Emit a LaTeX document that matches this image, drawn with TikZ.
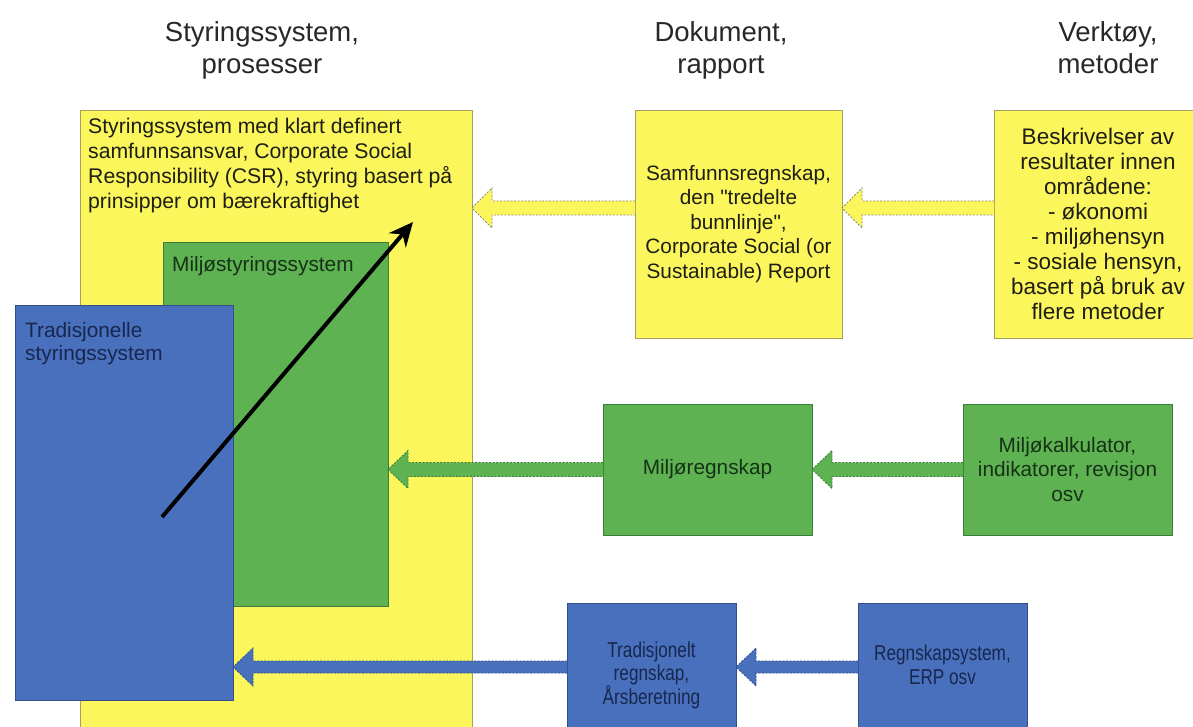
\documentclass[tikz,border=0pt]{standalone}
\usepackage{fontspec}
\setmainfont{Liberation Sans}[Ligatures=TeXOff]
\newfontfamily\narrowfont{Liberation Sans}[FakeStretch=0.8]
\usetikzlibrary{calc,arrows.meta}
\definecolor{ylw}{RGB}{250,246,92}
\definecolor{ylwd}{RGB}{165,160,95}
\definecolor{ylwa}{RGB}{140,140,115}
\definecolor{grn}{RGB}{94,178,82}
\definecolor{grnd}{RGB}{60,125,58}
\definecolor{blu}{RGB}{72,112,188}
\definecolor{blud}{RGB}{48,78,140}
\definecolor{ytxt}{RGB}{30,30,20}
\definecolor{gtxt}{RGB}{22,50,22}
\definecolor{btxt}{RGB}{25,38,78}
\definecolor{htxt}{RGB}{40,40,40}
\newcommand\blockarr[6]{% start, tip, fill, draw, shaft half, head half
  \filldraw[fill=#3, draw=#4, dash pattern=on 2pt off 1.5pt, line width=0.8pt]
    ($(#1)+(0,-#5)$) -- ($(#2)+(20,-#5)$) -- ($(#2)+(20,-#6)$) -- (#2)
    -- ($(#2)+(20,#6)$) -- ($(#2)+(20,#5)$) -- ($(#1)+(0,#5)$);
}
\begin{document}
\begin{tikzpicture}[x=1pt,y=-1pt,
  box/.style={draw, line width=0.8pt, anchor=north west, inner sep=0pt, outer sep=0pt, align=center},
  ybox/.style={box, fill=ylw, draw=ylwd, text=ytxt},
  gbox/.style={box, fill=grn, draw=grnd, text=gtxt},
  bbox/.style={box, fill=blu, draw=blud, text=btxt},
  body/.style={font=\fontsize{20.8}{24.5}\selectfont},
  head/.style={font=\fontsize{27.5}{32}\selectfont, text=htxt, align=center, anchor=north, inner sep=0pt},
  corner/.style={anchor=north west, inner sep=0pt, align=left, body}
]
\useasboundingbox (0,0) rectangle (1193,727);
\clip (0,0) rectangle (1193,727);
\fill[white] (0,0) rectangle (1193,727);

% headers
\node[head] (h1) at (262,21) {Styringssystem,\\prosesser};
\node[head] (h2) at (721,21) {Dokument,\\rapport};
\node[head] (h3) at (1108,21) {Verktøy,\\metoder};

% big nested boxes
\node[ybox, minimum width=392pt, minimum height=640pt] (bigY) at (80,110) {};
\node[corner, text=ytxt, font=\fontsize{21.2}{25}\selectfont] (tY) at (88,118) {Styringssystem med klart definert\\samfunnsansvar, Corporate Social\\Responsibility (CSR), styring basert på\\prinsipper om bærekraftighet};
\node[gbox, minimum width=225pt, minimum height=364pt] (bigG) at (163,242) {};
\node[corner, text=gtxt] (tG) at (172,256) {Miljøstyringssystem};
\node[bbox, minimum width=218pt, minimum height=395pt] (bigB) at (15,305) {};
\node[corner, text=btxt, font=\fontsize{20.8}{23}\selectfont] (tB) at (25,322) {Tradisjonelle\\styringssystem};

% trend arrow
\coordinate (arS) at (162,517);
\coordinate (arE) at (413,222);
\draw[line width=4pt, -{Stealth[length=24pt,width=22pt]}] (arS) -- (arE);

% document / tool boxes
\node[ybox, body, minimum width=207pt, minimum height=228pt] (doc) at (635,110)
  {Samfunnsregnskap,\\den "tredelte\\bunnlinje",\\Corporate Social (or\\Sustainable) Report};
\node[ybox, font=\fontsize{22.5}{25}\selectfont, minimum width=208pt, minimum height=228pt] (tool) at (994,110)
  {Beskrivelser av\\resultater innen\\områdene:\\- økonomi\\- miljøhensyn\\- sosiale hensyn,\\basert på bruk av\\flere metoder};
\node[gbox, body, minimum width=209pt, minimum height=131pt] (mreg) at (603,404) {Miljøregnskap};
\node[gbox, body, minimum width=209pt, minimum height=131pt] (mkal) at (963,404)
  {Miljøkalkulator,\\indikatorer, revisjon\\osv};
\node[bbox, font=\narrowfont\fontsize{21.5}{23.5}\selectfont, minimum width=169pt, minimum height=144pt] (trad) at (567,603)
  {Tradisjonelt\\regnskap,\\Årsberetning};
\node[bbox, font=\narrowfont\fontsize{21.5}{23.5}\selectfont, minimum width=169pt, minimum height=124pt] (regn) at (858,603)
  {Regnskapsystem,\\ERP osv};

% block arrows
\coordinate (y1s) at ($(doc.west)+(0,-16)$);
\coordinate (y1t) at (bigY.east |- y1s);
\coordinate (y2s) at (tool.west |- y1s);
\coordinate (y2t) at (doc.east |- y1s);
\blockarr{y1s}{y1t}{ylw}{ylwa}{7}{20}
\blockarr{y2s}{y2t}{ylw}{ylwa}{7}{20}

\coordinate (g1s) at (mreg.west);
\coordinate (g1t) at (bigG.east |- g1s);
\coordinate (g2s) at (mkal.west);
\coordinate (g2t) at (mreg.east |- g2s);
\blockarr{g1s}{g1t}{grn}{grnd}{7}{19}
\blockarr{g2s}{g2t}{grn}{grnd}{7}{19}

\coordinate (b1s) at ($(trad.west)+(0,-8)$);
\coordinate (b1t) at (bigB.east |- b1s);
\coordinate (b2s) at (regn.west |- b1s);
\coordinate (b2t) at (trad.east |- b1s);
\blockarr{b1s}{b1t}{blu}{blud}{6}{19}
\blockarr{b2s}{b2t}{blu}{blud}{6}{19}
\end{tikzpicture}
\end{document}
